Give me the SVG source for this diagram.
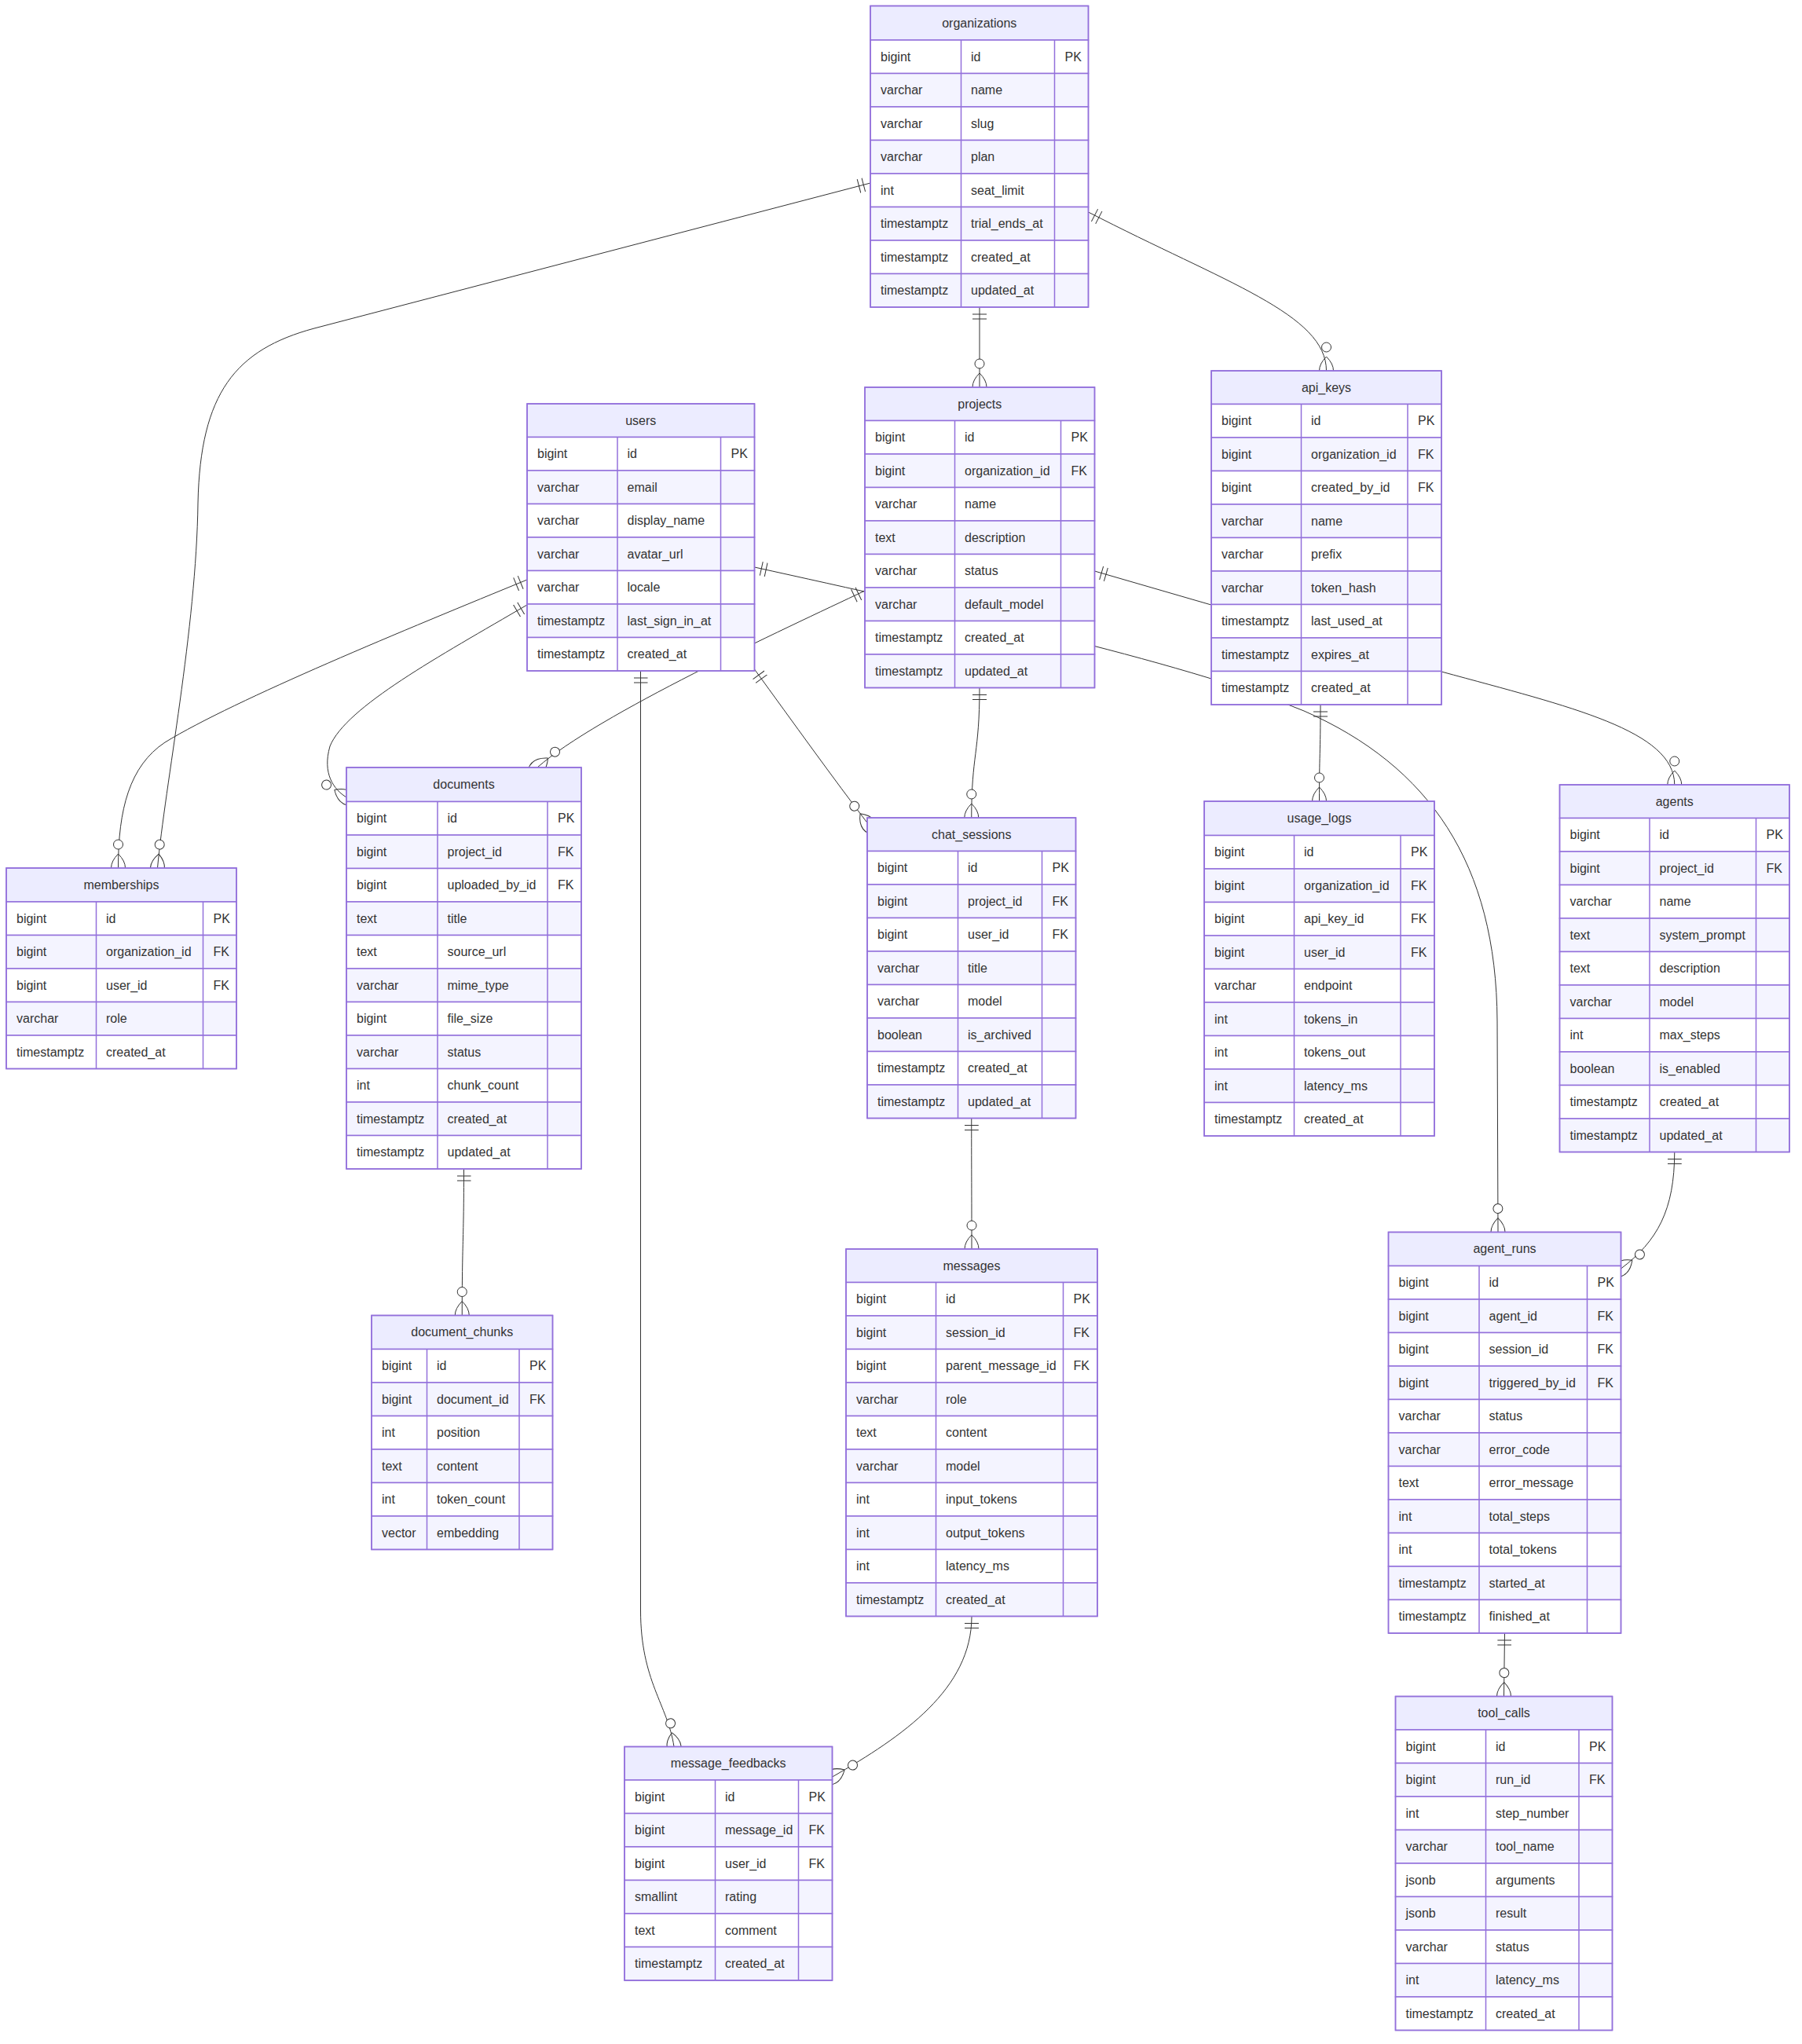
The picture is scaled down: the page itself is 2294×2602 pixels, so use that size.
<svg xmlns="http://www.w3.org/2000/svg" width="2294" height="2602" viewBox="0 0 2294 2602">
<style>
.hdr{fill:#ECECFF;stroke:#9370DB;stroke-width:1.5}
.ro{fill:#FFFFFF;stroke:#9370DB;stroke-width:1.5}
.re{fill:#F4F4FF;stroke:#9370DB;stroke-width:1.5}
.dv{stroke:#9370DB;stroke-width:1.5}
.bx{fill:none;stroke:#9370DB;stroke-width:1.5}
text{font-family:"Liberation Sans",Arial,sans-serif;font-size:16px;fill:#333333}
.h{text-anchor:middle}
.rel{fill:none;stroke:#333333;stroke-width:1;marker-start:url(#oneStart);marker-end:url(#manyEnd)}
</style>
<defs>
<marker id="oneStart" markerWidth="18" markerHeight="18" refX="0" refY="9" orient="auto" markerUnits="userSpaceOnUse"><path d="M9,0 L9,18 M15,0 L15,18" fill="none" stroke="#333333"/></marker>
<marker id="manyEnd" markerWidth="57" markerHeight="36" refX="39" refY="18" orient="auto" markerUnits="userSpaceOnUse"><circle cx="9" cy="18" r="6" fill="#FFFFFF" stroke="#333333"/><path d="M21,18 Q39,0 57,18 Q39,36 21,18" fill="none" stroke="#333333"/></marker>
</defs>
<rect width="2294" height="2602" fill="#FFFFFF"/>
<g id="connectors">
<path id="r-org-mem" class="rel" d="M1108,233 L400,418 C300,445 255,500 252,640 C250,800 210,1000 200.5,1105"/>
<path id="r-usr-mem" class="rel" d="M671,738 C520,800 300,890 210,945 C165,975 150.5,1030 150.5,1105"/>
<path id="r-usr-doc" class="rel" d="M671,770 C560,835 440,900 420,950 C410,985 425,1005 441,1015"/>
<path id="r-org-prj" class="rel" d="M1247,391 L1247,493"/>
<path id="r-org-key" class="rel" d="M1385.5,270 C1560,360 1688.5,400 1688.5,472"/>
<path id="r-prj-doc" class="rel" d="M1101,752 C1000,800 760,910 684,977"/>
<path id="r-usr-chat" class="rel" d="M960.5,852 C1010,920 1060,990 1106,1050"/>
<path id="r-prj-chat" class="rel" d="M1247,875.5 C1247,960 1236.75,960 1236.75,1041"/>
<path id="r-key-use" class="rel" d="M1681,897 C1681,960 1679.5,960 1679.5,1020"/>
<path id="r-usr-run" class="rel" d="M960.5,722 C1200,775 1500,840 1660,905 C1820,975 1905,1100 1906,1300 L1907,1568.5"/>
<path id="r-prj-agt" class="rel" d="M1393.5,727 L1835,855 C2000,900 2131.75,930 2131.75,999"/>
<path id="r-agt-run" class="rel" d="M2131.75,1466.5 C2131.75,1540 2110,1580 2063.5,1615"/>
<path id="r-doc-chk" class="rel" d="M590.5,1488 C590.5,1580 588.25,1580 588.25,1674.5"/>
<path id="r-chat-msg" class="rel" d="M1236.75,1423.5 C1236.75,1500 1237,1510 1237,1590"/>
<path id="r-usr-fb" class="rel" d="M815.5,854 L815.5,2050 C815.5,2140 850,2170 858,2223.5"/>
<path id="r-msg-fb" class="rel" d="M1237,2057.5 C1237,2150 1150,2210 1059.5,2262"/>
<path id="r-run-tool" class="rel" d="M1915.5,2079 L1914.5,2159.5"/>
</g>

<g id="organizations">
<rect class="hdr" x="1108" y="7.5" width="277.5" height="43.5"/>
<text class="h" x="1246.75" y="34.55">organizations</text>
<rect class="ro" x="1108" y="51" width="277.5" height="42.5"/>
<rect class="re" x="1108" y="93.5" width="277.5" height="42.5"/>
<rect class="ro" x="1108" y="136" width="277.5" height="42.5"/>
<rect class="re" x="1108" y="178.5" width="277.5" height="42.5"/>
<rect class="ro" x="1108" y="221" width="277.5" height="42.5"/>
<rect class="re" x="1108" y="263.5" width="277.5" height="42.5"/>
<rect class="ro" x="1108" y="306" width="277.5" height="42.5"/>
<rect class="re" x="1108" y="348.5" width="277.5" height="42.5"/>
<line class="dv" x1="1223.5" y1="51" x2="1223.5" y2="391"/>
<line class="dv" x1="1342.5" y1="51" x2="1342.5" y2="391"/>
<rect class="bx" x="1108" y="7.5" width="277.5" height="383.5"/>
<text x="1121" y="77.55">bigint</text><text x="1236" y="77.55">id</text><text x="1355.5" y="77.55">PK</text>
<text x="1121" y="120.05">varchar</text><text x="1236" y="120.05">name</text>
<text x="1121" y="162.55">varchar</text><text x="1236" y="162.55">slug</text>
<text x="1121" y="205.05">varchar</text><text x="1236" y="205.05">plan</text>
<text x="1121" y="247.55">int</text><text x="1236" y="247.55">seat_limit</text>
<text x="1121" y="290.05">timestamptz</text><text x="1236" y="290.05">trial_ends_at</text>
<text x="1121" y="332.55">timestamptz</text><text x="1236" y="332.55">created_at</text>
<text x="1121" y="375.05">timestamptz</text><text x="1236" y="375.05">updated_at</text>
</g>

<g id="users">
<rect class="hdr" x="671" y="514" width="289.5" height="42.5"/>
<text class="h" x="815.75" y="540.55">users</text>
<rect class="ro" x="671" y="556.5" width="289.5" height="42.5"/>
<rect class="re" x="671" y="599" width="289.5" height="42.5"/>
<rect class="ro" x="671" y="641.5" width="289.5" height="42.5"/>
<rect class="re" x="671" y="684" width="289.5" height="42.5"/>
<rect class="ro" x="671" y="726.5" width="289.5" height="42.5"/>
<rect class="re" x="671" y="769" width="289.5" height="42.5"/>
<rect class="ro" x="671" y="811.5" width="289.5" height="42.5"/>
<line class="dv" x1="786" y1="556.5" x2="786" y2="854"/>
<line class="dv" x1="917.5" y1="556.5" x2="917.5" y2="854"/>
<rect class="bx" x="671" y="514" width="289.5" height="340"/>
<text x="684" y="583.05">bigint</text><text x="798.5" y="583.05">id</text><text x="930.5" y="583.05">PK</text>
<text x="684" y="625.55">varchar</text><text x="798.5" y="625.55">email</text>
<text x="684" y="668.05">varchar</text><text x="798.5" y="668.05">display_name</text>
<text x="684" y="710.55">varchar</text><text x="798.5" y="710.55">avatar_url</text>
<text x="684" y="753.05">varchar</text><text x="798.5" y="753.05">locale</text>
<text x="684" y="795.55">timestamptz</text><text x="798.5" y="795.55">last_sign_in_at</text>
<text x="684" y="838.05">timestamptz</text><text x="798.5" y="838.05">created_at</text>
</g>

<g id="projects">
<rect class="hdr" x="1101" y="493" width="292.5" height="42.5"/>
<text class="h" x="1247.25" y="519.55">projects</text>
<rect class="ro" x="1101" y="535.5" width="292.5" height="42.5"/>
<rect class="re" x="1101" y="578" width="292.5" height="42.5"/>
<rect class="ro" x="1101" y="620.5" width="292.5" height="42.5"/>
<rect class="re" x="1101" y="663" width="292.5" height="42.5"/>
<rect class="ro" x="1101" y="705.5" width="292.5" height="42.5"/>
<rect class="re" x="1101" y="748" width="292.5" height="42.5"/>
<rect class="ro" x="1101" y="790.5" width="292.5" height="42.5"/>
<rect class="re" x="1101" y="833" width="292.5" height="42.5"/>
<line class="dv" x1="1215.5" y1="535.5" x2="1215.5" y2="875.5"/>
<line class="dv" x1="1350.5" y1="535.5" x2="1350.5" y2="875.5"/>
<rect class="bx" x="1101" y="493" width="292.5" height="382.5"/>
<text x="1114" y="562.05">bigint</text><text x="1228" y="562.05">id</text><text x="1363.5" y="562.05">PK</text>
<text x="1114" y="604.55">bigint</text><text x="1228" y="604.55">organization_id</text><text x="1363.5" y="604.55">FK</text>
<text x="1114" y="647.05">varchar</text><text x="1228" y="647.05">name</text>
<text x="1114" y="689.55">text</text><text x="1228" y="689.55">description</text>
<text x="1114" y="732.05">varchar</text><text x="1228" y="732.05">status</text>
<text x="1114" y="774.55">varchar</text><text x="1228" y="774.55">default_model</text>
<text x="1114" y="817.05">timestamptz</text><text x="1228" y="817.05">created_at</text>
<text x="1114" y="859.55">timestamptz</text><text x="1228" y="859.55">updated_at</text>
</g>

<g id="api_keys">
<rect class="hdr" x="1542" y="472" width="293" height="42.5"/>
<text class="h" x="1688.5" y="498.55">api_keys</text>
<rect class="ro" x="1542" y="514.5" width="293" height="42.5"/>
<rect class="re" x="1542" y="557" width="293" height="42.5"/>
<rect class="ro" x="1542" y="599.5" width="293" height="42.5"/>
<rect class="re" x="1542" y="642" width="293" height="42.5"/>
<rect class="ro" x="1542" y="684.5" width="293" height="42.5"/>
<rect class="re" x="1542" y="727" width="293" height="42.5"/>
<rect class="ro" x="1542" y="769.5" width="293" height="42.5"/>
<rect class="re" x="1542" y="812" width="293" height="42.5"/>
<rect class="ro" x="1542" y="854.5" width="293" height="42.5"/>
<line class="dv" x1="1656.5" y1="514.5" x2="1656.5" y2="897"/>
<line class="dv" x1="1792" y1="514.5" x2="1792" y2="897"/>
<rect class="bx" x="1542" y="472" width="293" height="425"/>
<text x="1555" y="541.05">bigint</text><text x="1669" y="541.05">id</text><text x="1805" y="541.05">PK</text>
<text x="1555" y="583.55">bigint</text><text x="1669" y="583.55">organization_id</text><text x="1805" y="583.55">FK</text>
<text x="1555" y="626.05">bigint</text><text x="1669" y="626.05">created_by_id</text><text x="1805" y="626.05">FK</text>
<text x="1555" y="668.55">varchar</text><text x="1669" y="668.55">name</text>
<text x="1555" y="711.05">varchar</text><text x="1669" y="711.05">prefix</text>
<text x="1555" y="753.55">varchar</text><text x="1669" y="753.55">token_hash</text>
<text x="1555" y="796.05">timestamptz</text><text x="1669" y="796.05">last_used_at</text>
<text x="1555" y="838.55">timestamptz</text><text x="1669" y="838.55">expires_at</text>
<text x="1555" y="881.05">timestamptz</text><text x="1669" y="881.05">created_at</text>
</g>

<g id="memberships">
<rect class="hdr" x="8" y="1105" width="293" height="43"/>
<text class="h" x="154.5" y="1131.8">memberships</text>
<rect class="ro" x="8" y="1148" width="293" height="42.5"/>
<rect class="re" x="8" y="1190.5" width="293" height="42.5"/>
<rect class="ro" x="8" y="1233" width="293" height="42.5"/>
<rect class="re" x="8" y="1275.5" width="293" height="42.5"/>
<rect class="ro" x="8" y="1318" width="293" height="42.5"/>
<line class="dv" x1="122.5" y1="1148" x2="122.5" y2="1360.5"/>
<line class="dv" x1="258.5" y1="1148" x2="258.5" y2="1360.5"/>
<rect class="bx" x="8" y="1105" width="293" height="255.5"/>
<text x="21" y="1174.55">bigint</text><text x="135" y="1174.55">id</text><text x="271.5" y="1174.55">PK</text>
<text x="21" y="1217.05">bigint</text><text x="135" y="1217.05">organization_id</text><text x="271.5" y="1217.05">FK</text>
<text x="21" y="1259.55">bigint</text><text x="135" y="1259.55">user_id</text><text x="271.5" y="1259.55">FK</text>
<text x="21" y="1302.05">varchar</text><text x="135" y="1302.05">role</text>
<text x="21" y="1344.55">timestamptz</text><text x="135" y="1344.55">created_at</text>
</g>

<g id="documents">
<rect class="hdr" x="441" y="977" width="299" height="43.5"/>
<text class="h" x="590.5" y="1004.05">documents</text>
<rect class="ro" x="441" y="1020.5" width="299" height="42.5"/>
<rect class="re" x="441" y="1063" width="299" height="42.5"/>
<rect class="ro" x="441" y="1105.5" width="299" height="42.5"/>
<rect class="re" x="441" y="1148" width="299" height="42.5"/>
<rect class="ro" x="441" y="1190.5" width="299" height="42.5"/>
<rect class="re" x="441" y="1233" width="299" height="42.5"/>
<rect class="ro" x="441" y="1275.5" width="299" height="42.5"/>
<rect class="re" x="441" y="1318" width="299" height="42.5"/>
<rect class="ro" x="441" y="1360.5" width="299" height="42.5"/>
<rect class="re" x="441" y="1403" width="299" height="42.5"/>
<rect class="ro" x="441" y="1445.5" width="299" height="42.5"/>
<line class="dv" x1="557" y1="1020.5" x2="557" y2="1488"/>
<line class="dv" x1="697" y1="1020.5" x2="697" y2="1488"/>
<rect class="bx" x="441" y="977" width="299" height="511"/>
<text x="454" y="1047.05">bigint</text><text x="569.5" y="1047.05">id</text><text x="710" y="1047.05">PK</text>
<text x="454" y="1089.55">bigint</text><text x="569.5" y="1089.55">project_id</text><text x="710" y="1089.55">FK</text>
<text x="454" y="1132.05">bigint</text><text x="569.5" y="1132.05">uploaded_by_id</text><text x="710" y="1132.05">FK</text>
<text x="454" y="1174.55">text</text><text x="569.5" y="1174.55">title</text>
<text x="454" y="1217.05">text</text><text x="569.5" y="1217.05">source_url</text>
<text x="454" y="1259.55">varchar</text><text x="569.5" y="1259.55">mime_type</text>
<text x="454" y="1302.05">bigint</text><text x="569.5" y="1302.05">file_size</text>
<text x="454" y="1344.55">varchar</text><text x="569.5" y="1344.55">status</text>
<text x="454" y="1387.05">int</text><text x="569.5" y="1387.05">chunk_count</text>
<text x="454" y="1429.55">timestamptz</text><text x="569.5" y="1429.55">created_at</text>
<text x="454" y="1472.05">timestamptz</text><text x="569.5" y="1472.05">updated_at</text>
</g>

<g id="chat_sessions">
<rect class="hdr" x="1104" y="1041" width="265.5" height="42.5"/>
<text class="h" x="1236.75" y="1067.55">chat_sessions</text>
<rect class="ro" x="1104" y="1083.5" width="265.5" height="42.5"/>
<rect class="re" x="1104" y="1126" width="265.5" height="42.5"/>
<rect class="ro" x="1104" y="1168.5" width="265.5" height="42.5"/>
<rect class="re" x="1104" y="1211" width="265.5" height="42.5"/>
<rect class="ro" x="1104" y="1253.5" width="265.5" height="42.5"/>
<rect class="re" x="1104" y="1296" width="265.5" height="42.5"/>
<rect class="ro" x="1104" y="1338.5" width="265.5" height="42.5"/>
<rect class="re" x="1104" y="1381" width="265.5" height="42.5"/>
<line class="dv" x1="1219.5" y1="1083.5" x2="1219.5" y2="1423.5"/>
<line class="dv" x1="1326.5" y1="1083.5" x2="1326.5" y2="1423.5"/>
<rect class="bx" x="1104" y="1041" width="265.5" height="382.5"/>
<text x="1117" y="1110.05">bigint</text><text x="1232" y="1110.05">id</text><text x="1339.5" y="1110.05">PK</text>
<text x="1117" y="1152.55">bigint</text><text x="1232" y="1152.55">project_id</text><text x="1339.5" y="1152.55">FK</text>
<text x="1117" y="1195.05">bigint</text><text x="1232" y="1195.05">user_id</text><text x="1339.5" y="1195.05">FK</text>
<text x="1117" y="1237.55">varchar</text><text x="1232" y="1237.55">title</text>
<text x="1117" y="1280.05">varchar</text><text x="1232" y="1280.05">model</text>
<text x="1117" y="1322.55">boolean</text><text x="1232" y="1322.55">is_archived</text>
<text x="1117" y="1365.05">timestamptz</text><text x="1232" y="1365.05">created_at</text>
<text x="1117" y="1407.55">timestamptz</text><text x="1232" y="1407.55">updated_at</text>
</g>

<g id="usage_logs">
<rect class="hdr" x="1533" y="1020" width="293" height="43.5"/>
<text class="h" x="1679.5" y="1047.05">usage_logs</text>
<rect class="ro" x="1533" y="1063.5" width="293" height="42.5"/>
<rect class="re" x="1533" y="1106" width="293" height="42.5"/>
<rect class="ro" x="1533" y="1148.5" width="293" height="42.5"/>
<rect class="re" x="1533" y="1191" width="293" height="42.5"/>
<rect class="ro" x="1533" y="1233.5" width="293" height="42.5"/>
<rect class="re" x="1533" y="1276" width="293" height="42.5"/>
<rect class="ro" x="1533" y="1318.5" width="293" height="42.5"/>
<rect class="re" x="1533" y="1361" width="293" height="42.5"/>
<rect class="ro" x="1533" y="1403.5" width="293" height="42.5"/>
<line class="dv" x1="1647.5" y1="1063.5" x2="1647.5" y2="1446"/>
<line class="dv" x1="1783" y1="1063.5" x2="1783" y2="1446"/>
<rect class="bx" x="1533" y="1020" width="293" height="426"/>
<text x="1546" y="1090.05">bigint</text><text x="1660" y="1090.05">id</text><text x="1796" y="1090.05">PK</text>
<text x="1546" y="1132.55">bigint</text><text x="1660" y="1132.55">organization_id</text><text x="1796" y="1132.55">FK</text>
<text x="1546" y="1175.05">bigint</text><text x="1660" y="1175.05">api_key_id</text><text x="1796" y="1175.05">FK</text>
<text x="1546" y="1217.55">bigint</text><text x="1660" y="1217.55">user_id</text><text x="1796" y="1217.55">FK</text>
<text x="1546" y="1260.05">varchar</text><text x="1660" y="1260.05">endpoint</text>
<text x="1546" y="1302.55">int</text><text x="1660" y="1302.55">tokens_in</text>
<text x="1546" y="1345.05">int</text><text x="1660" y="1345.05">tokens_out</text>
<text x="1546" y="1387.55">int</text><text x="1660" y="1387.55">latency_ms</text>
<text x="1546" y="1430.05">timestamptz</text><text x="1660" y="1430.05">created_at</text>
</g>

<g id="agents">
<rect class="hdr" x="1985.5" y="999" width="292.5" height="42.5"/>
<text class="h" x="2131.75" y="1025.55">agents</text>
<rect class="ro" x="1985.5" y="1041.5" width="292.5" height="42.5"/>
<rect class="re" x="1985.5" y="1084" width="292.5" height="42.5"/>
<rect class="ro" x="1985.5" y="1126.5" width="292.5" height="42.5"/>
<rect class="re" x="1985.5" y="1169" width="292.5" height="42.5"/>
<rect class="ro" x="1985.5" y="1211.5" width="292.5" height="42.5"/>
<rect class="re" x="1985.5" y="1254" width="292.5" height="42.5"/>
<rect class="ro" x="1985.5" y="1296.5" width="292.5" height="42.5"/>
<rect class="re" x="1985.5" y="1339" width="292.5" height="42.5"/>
<rect class="ro" x="1985.5" y="1381.5" width="292.5" height="42.5"/>
<rect class="re" x="1985.5" y="1424" width="292.5" height="42.5"/>
<line class="dv" x1="2100" y1="1041.5" x2="2100" y2="1466.5"/>
<line class="dv" x1="2235.5" y1="1041.5" x2="2235.5" y2="1466.5"/>
<rect class="bx" x="1985.5" y="999" width="292.5" height="467.5"/>
<text x="1998.5" y="1068.05">bigint</text><text x="2112.5" y="1068.05">id</text><text x="2248.5" y="1068.05">PK</text>
<text x="1998.5" y="1110.55">bigint</text><text x="2112.5" y="1110.55">project_id</text><text x="2248.5" y="1110.55">FK</text>
<text x="1998.5" y="1153.05">varchar</text><text x="2112.5" y="1153.05">name</text>
<text x="1998.5" y="1195.55">text</text><text x="2112.5" y="1195.55">system_prompt</text>
<text x="1998.5" y="1238.05">text</text><text x="2112.5" y="1238.05">description</text>
<text x="1998.5" y="1280.55">varchar</text><text x="2112.5" y="1280.55">model</text>
<text x="1998.5" y="1323.05">int</text><text x="2112.5" y="1323.05">max_steps</text>
<text x="1998.5" y="1365.55">boolean</text><text x="2112.5" y="1365.55">is_enabled</text>
<text x="1998.5" y="1408.05">timestamptz</text><text x="2112.5" y="1408.05">created_at</text>
<text x="1998.5" y="1450.55">timestamptz</text><text x="2112.5" y="1450.55">updated_at</text>
</g>

<g id="document_chunks">
<rect class="hdr" x="473" y="1674.5" width="230.5" height="43"/>
<text class="h" x="588.25" y="1701.3">document_chunks</text>
<rect class="ro" x="473" y="1717.5" width="230.5" height="42.5"/>
<rect class="re" x="473" y="1760" width="230.5" height="42.5"/>
<rect class="ro" x="473" y="1802.5" width="230.5" height="42.5"/>
<rect class="re" x="473" y="1845" width="230.5" height="42.5"/>
<rect class="ro" x="473" y="1887.5" width="230.5" height="42.5"/>
<rect class="re" x="473" y="1930" width="230.5" height="42.5"/>
<line class="dv" x1="543.5" y1="1717.5" x2="543.5" y2="1972.5"/>
<line class="dv" x1="661" y1="1717.5" x2="661" y2="1972.5"/>
<rect class="bx" x="473" y="1674.5" width="230.5" height="298"/>
<text x="486" y="1744.05">bigint</text><text x="556" y="1744.05">id</text><text x="674" y="1744.05">PK</text>
<text x="486" y="1786.55">bigint</text><text x="556" y="1786.55">document_id</text><text x="674" y="1786.55">FK</text>
<text x="486" y="1829.05">int</text><text x="556" y="1829.05">position</text>
<text x="486" y="1871.55">text</text><text x="556" y="1871.55">content</text>
<text x="486" y="1914.05">int</text><text x="556" y="1914.05">token_count</text>
<text x="486" y="1956.55">vector</text><text x="556" y="1956.55">embedding</text>
</g>

<g id="messages">
<rect class="hdr" x="1077" y="1590" width="320" height="42.5"/>
<text class="h" x="1237" y="1616.55">messages</text>
<rect class="ro" x="1077" y="1632.5" width="320" height="42.5"/>
<rect class="re" x="1077" y="1675" width="320" height="42.5"/>
<rect class="ro" x="1077" y="1717.5" width="320" height="42.5"/>
<rect class="re" x="1077" y="1760" width="320" height="42.5"/>
<rect class="ro" x="1077" y="1802.5" width="320" height="42.5"/>
<rect class="re" x="1077" y="1845" width="320" height="42.5"/>
<rect class="ro" x="1077" y="1887.5" width="320" height="42.5"/>
<rect class="re" x="1077" y="1930" width="320" height="42.5"/>
<rect class="ro" x="1077" y="1972.5" width="320" height="42.5"/>
<rect class="re" x="1077" y="2015" width="320" height="42.5"/>
<line class="dv" x1="1191.5" y1="1632.5" x2="1191.5" y2="2057.5"/>
<line class="dv" x1="1353.5" y1="1632.5" x2="1353.5" y2="2057.5"/>
<rect class="bx" x="1077" y="1590" width="320" height="467.5"/>
<text x="1090" y="1659.05">bigint</text><text x="1204" y="1659.05">id</text><text x="1366.5" y="1659.05">PK</text>
<text x="1090" y="1701.55">bigint</text><text x="1204" y="1701.55">session_id</text><text x="1366.5" y="1701.55">FK</text>
<text x="1090" y="1744.05">bigint</text><text x="1204" y="1744.05">parent_message_id</text><text x="1366.5" y="1744.05">FK</text>
<text x="1090" y="1786.55">varchar</text><text x="1204" y="1786.55">role</text>
<text x="1090" y="1829.05">text</text><text x="1204" y="1829.05">content</text>
<text x="1090" y="1871.55">varchar</text><text x="1204" y="1871.55">model</text>
<text x="1090" y="1914.05">int</text><text x="1204" y="1914.05">input_tokens</text>
<text x="1090" y="1956.55">int</text><text x="1204" y="1956.55">output_tokens</text>
<text x="1090" y="1999.05">int</text><text x="1204" y="1999.05">latency_ms</text>
<text x="1090" y="2041.55">timestamptz</text><text x="1204" y="2041.55">created_at</text>
</g>

<g id="agent_runs">
<rect class="hdr" x="1767.5" y="1568.5" width="296" height="43"/>
<text class="h" x="1915.5" y="1595.3">agent_runs</text>
<rect class="ro" x="1767.5" y="1611.5" width="296" height="42.5"/>
<rect class="re" x="1767.5" y="1654" width="296" height="42.5"/>
<rect class="ro" x="1767.5" y="1696.5" width="296" height="42.5"/>
<rect class="re" x="1767.5" y="1739" width="296" height="42.5"/>
<rect class="ro" x="1767.5" y="1781.5" width="296" height="42.5"/>
<rect class="re" x="1767.5" y="1824" width="296" height="42.5"/>
<rect class="ro" x="1767.5" y="1866.5" width="296" height="42.5"/>
<rect class="re" x="1767.5" y="1909" width="296" height="42.5"/>
<rect class="ro" x="1767.5" y="1951.5" width="296" height="42.5"/>
<rect class="re" x="1767.5" y="1994" width="296" height="42.5"/>
<rect class="ro" x="1767.5" y="2036.5" width="296" height="42.5"/>
<line class="dv" x1="1883" y1="1611.5" x2="1883" y2="2079"/>
<line class="dv" x1="2020.5" y1="1611.5" x2="2020.5" y2="2079"/>
<rect class="bx" x="1767.5" y="1568.5" width="296" height="510.5"/>
<text x="1780.5" y="1638.05">bigint</text><text x="1895.5" y="1638.05">id</text><text x="2033.5" y="1638.05">PK</text>
<text x="1780.5" y="1680.55">bigint</text><text x="1895.5" y="1680.55">agent_id</text><text x="2033.5" y="1680.55">FK</text>
<text x="1780.5" y="1723.05">bigint</text><text x="1895.5" y="1723.05">session_id</text><text x="2033.5" y="1723.05">FK</text>
<text x="1780.5" y="1765.55">bigint</text><text x="1895.5" y="1765.55">triggered_by_id</text><text x="2033.5" y="1765.55">FK</text>
<text x="1780.5" y="1808.05">varchar</text><text x="1895.5" y="1808.05">status</text>
<text x="1780.5" y="1850.55">varchar</text><text x="1895.5" y="1850.55">error_code</text>
<text x="1780.5" y="1893.05">text</text><text x="1895.5" y="1893.05">error_message</text>
<text x="1780.5" y="1935.55">int</text><text x="1895.5" y="1935.55">total_steps</text>
<text x="1780.5" y="1978.05">int</text><text x="1895.5" y="1978.05">total_tokens</text>
<text x="1780.5" y="2020.55">timestamptz</text><text x="1895.5" y="2020.55">started_at</text>
<text x="1780.5" y="2063.05">timestamptz</text><text x="1895.5" y="2063.05">finished_at</text>
</g>

<g id="message_feedbacks">
<rect class="hdr" x="795" y="2223.5" width="264.5" height="42.5"/>
<text class="h" x="927.25" y="2250.05">message_feedbacks</text>
<rect class="ro" x="795" y="2266" width="264.5" height="42.5"/>
<rect class="re" x="795" y="2308.5" width="264.5" height="42.5"/>
<rect class="ro" x="795" y="2351" width="264.5" height="42.5"/>
<rect class="re" x="795" y="2393.5" width="264.5" height="42.5"/>
<rect class="ro" x="795" y="2436" width="264.5" height="42.5"/>
<rect class="re" x="795" y="2478.5" width="264.5" height="42.5"/>
<line class="dv" x1="910.5" y1="2266" x2="910.5" y2="2521"/>
<line class="dv" x1="1016.5" y1="2266" x2="1016.5" y2="2521"/>
<rect class="bx" x="795" y="2223.5" width="264.5" height="297.5"/>
<text x="808" y="2292.55">bigint</text><text x="923" y="2292.55">id</text><text x="1029.5" y="2292.55">PK</text>
<text x="808" y="2335.05">bigint</text><text x="923" y="2335.05">message_id</text><text x="1029.5" y="2335.05">FK</text>
<text x="808" y="2377.55">bigint</text><text x="923" y="2377.55">user_id</text><text x="1029.5" y="2377.55">FK</text>
<text x="808" y="2420.05">smallint</text><text x="923" y="2420.05">rating</text>
<text x="808" y="2462.55">text</text><text x="923" y="2462.55">comment</text>
<text x="808" y="2505.05">timestamptz</text><text x="923" y="2505.05">created_at</text>
</g>

<g id="tool_calls">
<rect class="hdr" x="1776.5" y="2159.5" width="276" height="42.5"/>
<text class="h" x="1914.5" y="2186.05">tool_calls</text>
<rect class="ro" x="1776.5" y="2202" width="276" height="42.5"/>
<rect class="re" x="1776.5" y="2244.5" width="276" height="42.5"/>
<rect class="ro" x="1776.5" y="2287" width="276" height="42.5"/>
<rect class="re" x="1776.5" y="2329.5" width="276" height="42.5"/>
<rect class="ro" x="1776.5" y="2372" width="276" height="42.5"/>
<rect class="re" x="1776.5" y="2414.5" width="276" height="42.5"/>
<rect class="ro" x="1776.5" y="2457" width="276" height="42.5"/>
<rect class="re" x="1776.5" y="2499.5" width="276" height="42.5"/>
<rect class="ro" x="1776.5" y="2542" width="276" height="42.5"/>
<line class="dv" x1="1891.5" y1="2202" x2="1891.5" y2="2584.5"/>
<line class="dv" x1="2010" y1="2202" x2="2010" y2="2584.5"/>
<rect class="bx" x="1776.5" y="2159.5" width="276" height="425"/>
<text x="1789.5" y="2228.55">bigint</text><text x="1904" y="2228.55">id</text><text x="2023" y="2228.55">PK</text>
<text x="1789.5" y="2271.05">bigint</text><text x="1904" y="2271.05">run_id</text><text x="2023" y="2271.05">FK</text>
<text x="1789.5" y="2313.55">int</text><text x="1904" y="2313.55">step_number</text>
<text x="1789.5" y="2356.05">varchar</text><text x="1904" y="2356.05">tool_name</text>
<text x="1789.5" y="2398.55">jsonb</text><text x="1904" y="2398.55">arguments</text>
<text x="1789.5" y="2441.05">jsonb</text><text x="1904" y="2441.05">result</text>
<text x="1789.5" y="2483.55">varchar</text><text x="1904" y="2483.55">status</text>
<text x="1789.5" y="2526.05">int</text><text x="1904" y="2526.05">latency_ms</text>
<text x="1789.5" y="2568.55">timestamptz</text><text x="1904" y="2568.55">created_at</text>
</g>
</svg>
